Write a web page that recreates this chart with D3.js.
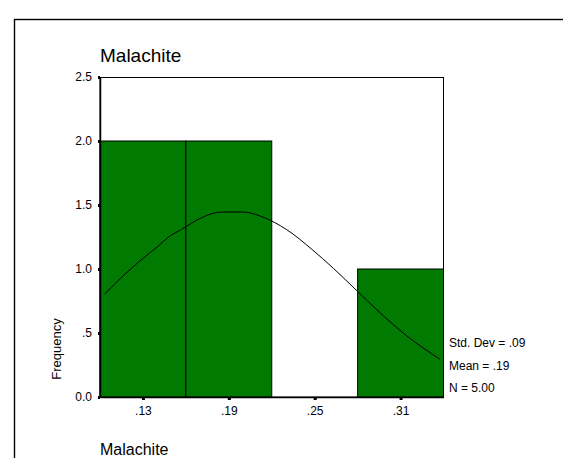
<!DOCTYPE html>
<html>
<head>
<meta charset="utf-8">
<script src="https://cdn.jsdelivr.net/npm/d3@7"></script>
<style>
  html, body { margin: 0; padding: 0; background: #fff; }
  svg { display: block; font-family: Arial, "Liberation Sans", sans-serif; }
</style>
</head>
<body>
<script>
// ---- data ----
const binStarts = [0.10, 0.16, 0.22, 0.28];
const binWidth = 0.06;
const counts = [2, 2, 0, 1];
const xTickValues = [0.13, 0.19, 0.25, 0.31];
const xTickLabels = [".13", ".19", ".25", ".31"];
const yTickValues = [0, 0.5, 1.0, 1.5, 2.0, 2.5];
const yTickLabels = ["0.0", ".5", "1.0", "1.5", "2.0", "2.5"];
// normal curve
const curveX = [0.1030, 0.1180, 0.1315, 0.1408, 0.1477, 0.1571, 0.1687, 0.1851, 0.2002, 0.2130, 0.2305, 0.2480, 0.2631, 0.2795, 0.2981, 0.3144, 0.3377];
const curveY = [0.802, 0.966, 1.097, 1.180, 1.248, 1.310, 1.388, 1.445, 1.445, 1.409, 1.307, 1.154, 1.005, 0.830, 0.633, 0.477, 0.294];
const statLabels = ["Std. Dev = .09", "Mean = .19", "N = 5.00"];
const chartTitle = "Malachite";
const xTitle = "Malachite";
const yTitle = "Frequency";

// ---- layout ----
const W = 563, H = 458;
const L = 100, R = 443.5, T = 77, B = 397;
const FONT = "Arial, 'Liberation Sans', sans-serif";

const svg = d3.select("body").append("svg").attr("width", W).attr("height", H);

svg.append("rect").attr("x", 14.5).attr("y", 19.5).attr("width", 700).attr("height", 600)
  .attr("fill", "none").attr("stroke", "#000").attr("stroke-width", 1.4);

const x = d3.scaleLinear().domain([0.10, 0.34]).range([L, R]);
const y = d3.scaleLinear().domain([0, 2.5]).range([B, T]);

// frame
svg.append("rect").attr("x", L).attr("y", T + 0.5).attr("width", R - L).attr("height", B - T - 0.5)
  .attr("fill", "none").attr("stroke", "#000").attr("stroke-width", 1);

// bars
svg.append("g").selectAll("rect").data(counts.map((c, i) => ({s: binStarts[i], c})).filter(d => d.c > 0))
  .join("rect")
  .attr("x", d => x(d.s))
  .attr("y", d => y(d.c))
  .attr("width", d => x(d.s + binWidth) - x(d.s))
  .attr("height", d => y(0) - y(d.c))
  .attr("fill", "#007a00")
  .attr("stroke", "#000")
  .attr("stroke-width", 1);

// curve
const line = d3.line().x(d => x(d[0])).y(d => y(d[1])).curve(d3.curveMonotoneX);
svg.append("path").datum(curveX.map((v, i) => [v, curveY[i]]))
  .attr("d", line).attr("fill", "none").attr("stroke", "#000").attr("stroke-width", 1);

// y axis
const yAxis = d3.axisLeft(y).tickValues(yTickValues)
  .tickFormat((d, i) => yTickLabels[i]).tickSizeInner(2).tickSizeOuter(0).tickPadding(6);
const gy = svg.append("g").attr("transform", `translate(${L},0)`).call(yAxis);
gy.select(".domain").attr("stroke", "#000").attr("stroke-width", 1.5);
gy.selectAll(".tick line").attr("stroke", "#000").attr("stroke-width", 3);
gy.selectAll(".tick text").attr("font-size", 12).attr("fill", "#000").attr("font-family", FONT);

// x axis
const xAxis = d3.axisBottom(x).tickValues(xTickValues)
  .tickFormat((d, i) => xTickLabels[i]).tickSizeInner(3).tickSizeOuter(0).tickPadding(6);
const gx = svg.append("g").attr("transform", `translate(0,${B})`).call(xAxis);
gx.select(".domain").attr("stroke", "#000").attr("stroke-width", 1.5);
gx.selectAll(".tick line").attr("stroke", "#000").attr("stroke-width", 3);
gx.selectAll(".tick text").attr("font-size", 12).attr("fill", "#000").attr("font-family", FONT);

// titles
svg.append("text").attr("x", 100).attr("y", 62).attr("font-size", 19).text(chartTitle);
svg.append("text").attr("x", 100).attr("y", 455).attr("font-size", 16).text(xTitle);
svg.append("text").attr("transform", "translate(61,349) rotate(-90)")
  .attr("text-anchor", "middle").attr("font-size", 13).text(yTitle);

// stats
svg.append("g").selectAll("text").data(statLabels).join("text")
  .attr("x", 449).attr("y", (d, i) => 347 + i * 22.5)
  .attr("font-size", 12).text(d => d);
</script>
</body>
</html>
